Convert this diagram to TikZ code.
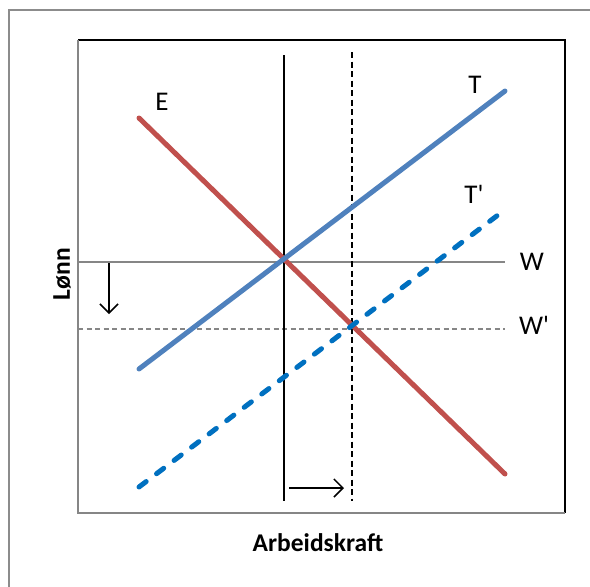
\documentclass[tikz,border=0pt]{standalone}
\usepackage{fontspec}
\setmainfont{Carlito}[Ligatures=TeXOff]
\usetikzlibrary{arrows.meta}
\definecolor{eRed}{RGB}{192,80,77}
\definecolor{tBlue}{RGB}{79,129,189}
\definecolor{tpBlue}{RGB}{0,112,192}
\definecolor{frameGray}{RGB}{140,140,140}
\definecolor{axisGray}{RGB}{134,134,134}
\tikzset{
  lbl/.style={inner sep=0pt, font=\fontsize{27}{32}\selectfont},
  axlbl/.style={inner sep=0pt, font=\fontsize{25.5}{30}\selectfont\bfseries},
  curve/.style={line width=5pt, line cap=round},
  shiftarrow/.style={line width=1.5pt, -{Straight Barb[length=9pt,width=18pt,line width=1.5pt]}},
}
\begin{document}
\begin{tikzpicture}[x=1pt,y=-1pt]
\useasboundingbox (0,0) rectangle (590,587);
% outer frame
\draw[frameGray, line width=1.6pt] (9,590) -- (9,10) -- (592,10);
% plot box
\draw[black, line width=1.5pt] (78,40) -- (565,40) -- (565,513);
\draw[axisGray, line width=2pt] (78,40) -- (78,513) -- (565,513);
% coordinates
\coordinate (wL) at (78,262);
\coordinate (wR) at (505,262);
\coordinate (wpL) at (78,329);
\coordinate (wpR) at (505,329);
\coordinate (sTop) at (284,55);
\coordinate (sBot) at (284,501);
\coordinate (dTop) at (352,52);
\coordinate (dBot) at (352,501);
\coordinate (eA) at (139,118);
\coordinate (eB) at (505,474);
\coordinate (tA) at (139,369);
\coordinate (tB) at (505,91);
\coordinate (tpA) at (139,487);
\coordinate (tpB) at (498,215);
\coordinate (dnA) at (109,263);
\coordinate (dnB) at (109,314);
\coordinate (rtA) at (289,488);
\coordinate (rtB) at (344,488);
% wage lines
\draw[axisGray, line width=2pt] (wL) -- (wR);
\draw[axisGray, line width=1.5pt, dash pattern=on 5pt off 3.5pt] (wpL) -- (wpR);
% verticals
\draw[black, line width=2pt] (sTop) -- (sBot);
\draw[black, line width=2pt, dash pattern=on 6pt off 3.5pt] (dTop) -- (dBot);
% curves
\draw[curve, eRed] (eA) -- (eB);
\draw[curve, tBlue] (tA) -- (tB);
\draw[curve, tpBlue, dash pattern=on 9pt off 13pt] (tpA) -- (tpB);
% shift arrows
\draw[shiftarrow] (dnA) -- (dnB);
\draw[shiftarrow] (rtA) -- (rtB);
% labels
\node[lbl] (lE) at (162,102) {E};
\node[lbl] (lT) at (475,85) {T};
\node[lbl] (lTp) at (474,194) {T'};
\node[lbl] (lW) at (532,262) {W};
\node[lbl] (lWp) at (534,325) {W'};
\node[axlbl] (lx) at (318,543) {Arbeidskraft};
\node[axlbl, rotate=90] (ly) at (62,274) {Lønn};
\end{tikzpicture}
\end{document}
